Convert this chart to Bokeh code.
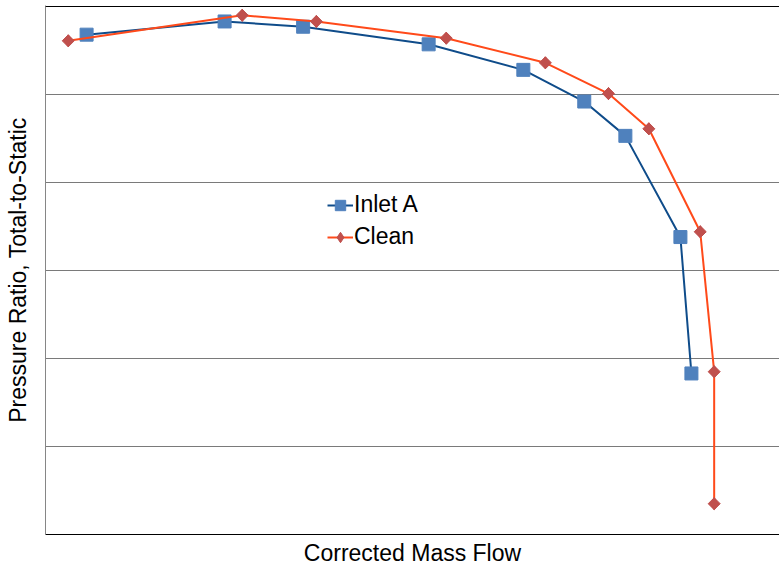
import math
from bokeh.plotting import figure
from bokeh.models import Range1d, FixedTicker, Legend, LegendItem, Span
from bokeh.embed import file_html
from bokeh.resources import INLINE

# Data (arbitrary units)
inlet_x = [5.6, 24.4, 35.1, 52.2, 65.1, 73.4, 79.0, 86.5, 88.0]
inlet_y = [5.68, 5.83, 5.77, 5.57, 5.28, 4.92, 4.53, 3.38, 1.83]
clean_x = [3.1, 26.8, 36.9, 54.6, 68.1, 76.7, 82.2, 89.2, 91.1, 91.1]
clean_y = [5.61, 5.90, 5.83, 5.64, 5.36, 5.01, 4.61, 3.44, 1.85, 0.35]
grid_levels = [1, 2, 3, 4, 5]
top_level = 6
series_names = ["Inlet A", "Clean"]
x_title = "Corrected Mass Flow"
y_title = "Pressure Ratio, Total-to-Static"

FONT = "Liberation Sans"

p = figure(width=779, height=569, output_backend="svg", toolbar_location=None,
           x_range=Range1d(0, 100), y_range=Range1d(0, 529 / 88),
           min_border_left=45, min_border_right=0, min_border_top=5,
           min_border_bottom=35)

p.background_fill_color = "white"
p.border_fill_color = "white"
p.outline_line_color = None

p.xgrid.visible = False
p.ygrid.ticker = FixedTicker(ticks=grid_levels)
p.ygrid.grid_line_color = "#7a7a7a"
p.ygrid.grid_line_width = 1

# top border line of the plot area
p.add_layout(Span(location=top_level, dimension="width",
                  line_color="black", line_width=1))

for ax in (p.xaxis[0], p.yaxis[0]):
    ax.ticker = FixedTicker(ticks=[])
    ax.major_tick_line_color = None
    ax.minor_tick_line_color = None
    ax.major_label_standoff = 0
    ax.axis_label_text_font = FONT
    ax.axis_label_text_font_size = "23px"
    ax.axis_label_text_font_style = "normal"
    ax.axis_label_text_color = "black"

p.xaxis.axis_line_color = "black"
p.xaxis.axis_line_width = 1
p.xaxis.axis_label = x_title
p.xaxis.axis_label_standoff = 5
p.yaxis.axis_line_color = "#868686"
p.yaxis.axis_label = y_title
p.yaxis.axis_label_standoff = 15

l1 = p.line(inlet_x, inlet_y, line_color="#0f4c8a", line_width=2)
m1 = p.scatter(inlet_x, inlet_y, marker="square", size=13,
               fill_color="#4f81bd", line_color="#4f81bd")
l2 = p.line(clean_x, clean_y, line_color="#ff4a1a", line_width=2)
# diamond markers (used for the legend; covered by the wider rotated squares)
m2_leg = p.scatter(clean_x, clean_y, marker="diamond", size=12,
                   fill_color="#c0504d", line_color="#c0504d")
m2 = p.scatter(clean_x, clean_y, marker="square", size=8.5, angle=math.pi / 4,
               fill_color="#c0504d", line_color="#c0504d")

legend = Legend(items=[LegendItem(label=series_names[0], renderers=[l1, m1]),
                       LegendItem(label=series_names[1], renderers=[l2, m2_leg])],
                location=(282, 284), orientation="vertical")
legend.margin = 0
legend.padding = 0
legend.spacing = 5
legend.glyph_width = 26
legend.glyph_height = 26
legend.label_height = 26
legend.label_standoff = 1
legend.label_text_font = FONT
legend.label_text_font_size = "23px"
legend.label_text_color = "black"
legend.border_line_color = None
legend.background_fill_alpha = 0
p.add_layout(legend, "center")

open("out.html", "w").write(file_html(p, INLINE))
